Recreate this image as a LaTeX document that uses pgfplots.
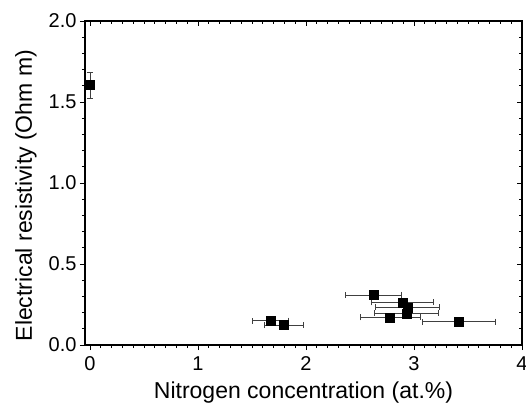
\documentclass[border=0pt]{standalone}
\usepackage{fontspec}
\setmainfont{Liberation Sans}
\usepackage{pgfplots}
\pgfplotsset{compat=1.18}
\usepackage{pgfplotstable}
\usetikzlibrary{calc}

% resistivity vs nitrogen content, x errors from EDX
\pgfplotstableread{
x     y     ex    ey
0.000 1.605 0.000 0.080
1.673 0.150 0.165 0.000
1.796 0.123 0.180 0.000
2.623 0.309 0.262 0.000
2.892 0.263 0.290 0.000
2.938 0.233 0.296 0.000
2.932 0.196 0.295 0.000
2.778 0.171 0.278 0.000
3.417 0.144 0.340 0.000
}\datatable

\pgfplotsset{
  frame/.style={
    scale only axis,
    width=437pt, height=324pt,
    xmin=-0.046, xmax=4, ymin=0, ymax=2,
    xtick={0,1,2,3,4}, ytick={0,0.5,1,1.5,2},
    minor x tick num=9, minor y tick num=4,
    axis line style={line width=1.2pt},
    major tick length=5pt, minor tick length=3pt,
    every tick/.style={black, line width=0.9pt},
  }
}

\begin{document}
\begin{tikzpicture}
\begin{axis}[
  frame, name=ax,
  xtick pos=bottom, ytick pos=left,
  tick align=outside,
  /pgf/number format/assume math mode=true,
  tick label style={font=\fontsize{20}{22}\selectfont},
  xticklabel style={yshift=-3pt},
  yticklabel style={/pgf/number format/fixed, /pgf/number format/fixed zerofill, /pgf/number format/precision=1},
  xlabel={Nitrogen concentration (at.\%)},
  ylabel={Electrical resistivity (Ohm m)},
  every axis x label/.style={at={(axis description cs:0.5,0)}, anchor=center, yshift=-48pt, font=\fontsize{23}{26}\selectfont},
  every axis y label/.style={at={(axis description cs:0,0.461)}, anchor=center, rotate=90, yshift=59pt, font=\fontsize{23}{26}\selectfont},
]
\addplot[only marks, mark=square*, mark size=4.5pt, black,
  error bars/.cd, x dir=both, x explicit, y dir=both, y explicit,
  error bar style={black!75, line width=0.8pt},
  error mark options={rotate=90, black!75, line width=0.8pt, mark size=3pt}]
  table[x=x, y=y, x error=ex, y error=ey] {\datatable};
\end{axis}
\begin{axis}[
  frame, at={(ax.south west)}, anchor=south west,
  xtick pos=top, ytick pos=right,
  tick align=inside,
  xticklabels={}, yticklabels={},
]
\end{axis}
\pgfresetboundingbox
\path ($(ax.south west)+(-85pt,-67pt)$) rectangle ($(ax.north east)+(4pt,21pt)$);
\end{tikzpicture}
\end{document}
